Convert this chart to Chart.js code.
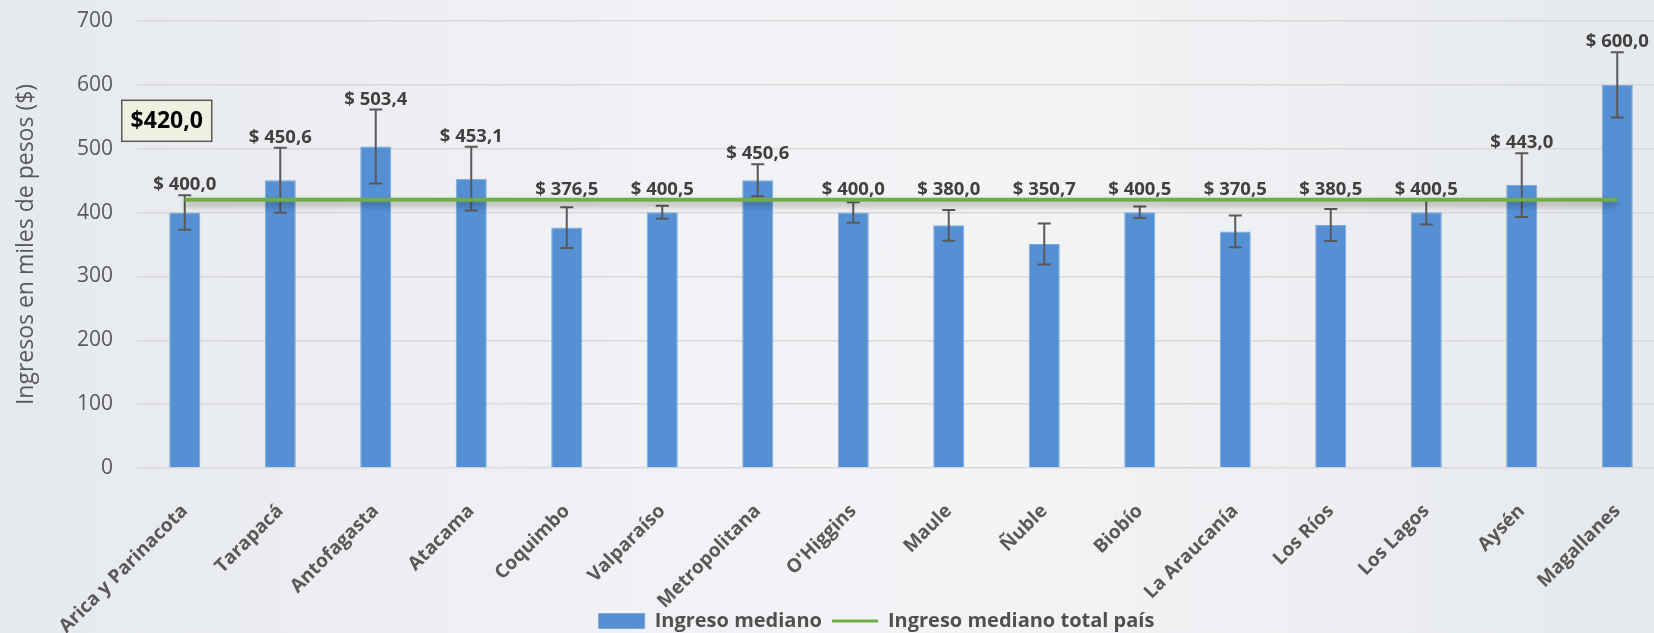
<!DOCTYPE html>
<html>
<head>
<meta charset="utf-8">
<script src="https://cdn.jsdelivr.net/npm/chart.js@4.4.1/dist/chart.umd.min.js"></script>
<style>
html, body { margin:0; padding:0; overflow:hidden; width:1654px; height:633px; }
body { background: linear-gradient(90deg, #e6e9ed 0%, #f1f2f5 40%, #f3f4f6 60%, #e6e9ec 100%); }
canvas { display:block; }
</style>
</head>
<body>
<canvas id="chart" width="1753" height="633"></canvas>
<script>
//=========================================
// Data
//=========================================
const regiones = [
    "Arica y Parinacota", "Tarapacá", "Antofagasta", "Atacama", "Coquimbo",
    "Valparaíso", "Metropolitana", "O'Higgins", "Maule", "Ñuble",
    "Biobío", "La Araucanía", "Los Ríos", "Los Lagos", "Aysén", "Magallanes"
];

const ingresoMediano = [400.0, 450.6, 503.4, 453.1, 376.5, 400.5, 450.6, 400.0,
                        380.0, 350.7, 400.5, 370.5, 380.5, 400.5, 443.0, 600.0];

const errorMargen = [27, 51, 58, 50, 32, 10, 25, 16, 24, 32, 9, 25, 25, 19, 50, 51];

const totalPais = 420.0;

const yMin = 0;
const yMax = 700;
const yStep = 100;

const fontFam = "'Open Sans', 'Liberation Sans', sans-serif";

const fmt = v => v.toFixed(1).replace(".", ",");

//------------------------------------
// Error bars (drawn right after the bars)
//------------------------------------
const errorBars = {
    id: "errorBars",
    afterDatasetDraw(chart, args) {
        if (args.index !== 0) return;
        const ctx = chart.ctx;
        const y = chart.scales.y;
        ctx.save();
        ctx.strokeStyle = "#595959";
        ctx.lineWidth = 2;
        args.meta.data.forEach((bar, i) => {
            const top = y.getPixelForValue(ingresoMediano[i] + errorMargen[i]);
            const bot = y.getPixelForValue(ingresoMediano[i] - errorMargen[i]);
            ctx.beginPath();
            ctx.moveTo(bar.x, top); ctx.lineTo(bar.x, bot);
            ctx.moveTo(bar.x - 6.5, top); ctx.lineTo(bar.x + 6.5, top);
            ctx.moveTo(bar.x - 6.5, bot); ctx.lineTo(bar.x + 6.5, bot);
            ctx.stroke();
        });
        ctx.restore();
    }
};

//------------------------------------
// Shadow under the country line
//------------------------------------
const lineShadow = {
    id: "lineShadow",
    beforeDatasetDraw(chart, args) {
        if (args.index !== 1) return;
        const ctx = chart.ctx;
        ctx.save();
        ctx.shadowColor = "rgba(0,0,0,0.35)";
        ctx.shadowBlur = 6;
        ctx.shadowOffsetY = 4;
    },
    afterDatasetDraw(chart, args) {
        if (args.index !== 1) return;
        chart.ctx.restore();
    }
};

//------------------------------------
// Let x labels run under the legend, push legend down a bit
//------------------------------------
const layoutTweak = {
    id: "layoutTweak",
    afterLayout(chart) {
        chart.scales.x.bottom = chart.height;
        chart.legend.top += 8;
        chart.legend.bottom += 8;
    }
};

//------------------------------------
// Value labels + total box
//------------------------------------
const valueLabels = {
    id: "valueLabels",
    afterDatasetsDraw(chart) {
        const ctx = chart.ctx;
        const y = chart.scales.y;
        const x = chart.scales.x;
        const lineY = y.getPixelForValue(totalPais);
        const bars = chart.getDatasetMeta(0).data;

        ctx.save();
        ctx.font = "bold 18.5px " + fontFam;
        ctx.fillStyle = "#404040";
        ctx.textAlign = "center";
        ctx.textBaseline = "bottom";
        bars.forEach((bar, i) => {
            const top = y.getPixelForValue(ingresoMediano[i] + errorMargen[i]);
            const base = Math.min(top, lineY) - 1;
            ctx.fillText("$ " + fmt(ingresoMediano[i]), bar.x, base);
        });

        // total box
        const cx = x.getPixelForValue(0) - 18;
        const cy = lineY - 79;
        const w = 90, h = 41;
        ctx.fillStyle = "#eef1e1";
        ctx.fillRect(cx - w / 2, cy - h / 2, w, h);
        ctx.strokeStyle = "#595959";
        ctx.lineWidth = 1.5;
        ctx.strokeRect(cx - w / 2, cy - h / 2, w, h);
        ctx.font = "bold 23px " + fontFam;
        ctx.fillStyle = "#000000";
        ctx.textBaseline = "middle";
        ctx.fillText("$" + fmt(totalPais), cx, cy + 1);
        ctx.restore();
    }
};

//=========================================
// Chart
//=========================================
new Chart(document.getElementById("chart"), {
    data: {
        labels: regiones,
        datasets: [
            {
                type: "bar",
                label: "Ingreso mediano",
                data: ingresoMediano,
                backgroundColor: "#5590d5",
                borderColor: "#79a8df",
                borderWidth: 1,
                barPercentage: 0.325,
                categoryPercentage: 1,
                order: 2
            },
            {
                type: "line",
                label: "Ingreso mediano total país",
                data: regiones.map(() => totalPais),
                borderColor: "#70ad47",
                backgroundColor: "#70ad47",
                borderWidth: 4,
                pointRadius: 0,
                fill: false,
                order: 1
            }
        ]
    },
    options: {
        responsive: false,
        animation: false,
        layout: { padding: { top: 21, left: 0, right: 0, bottom: 0 } },
        plugins: {
            tooltip: { enabled: false },
            legend: {
                position: "bottom",
                labels: {
                    usePointStyle: true,
                    pointStyleWidth: 46,
                    boxHeight: 15,
                    padding: 10,
                    color: "#505050",
                    font: { family: fontFam, size: 20, weight: "bold" },
                    sort: (a, b) => a.datasetIndex - b.datasetIndex,
                    generateLabels(chart) {
                        const items = Chart.defaults.plugins.legend.labels.generateLabels(chart);
                        items.forEach(it => {
                            if (it.datasetIndex === 0) {
                                it.pointStyle = "rect";
                            } else {
                                it.pointStyle = "line";
                                it.lineWidth = 3;
                            }
                        });
                        return items;
                    }
                }
            }
        },
        scales: {
            x: {
                grid: { display: false },
                border: { display: false },
                ticks: {
                    autoSkip: false,
                    minRotation: 45,
                    maxRotation: 45,
                    padding: 24,
                    color: "#595959",
                    font: { family: fontFam, size: 19, weight: "bold" }
                },
                afterFit(s) { s.height = 125; }
            },
            y: {
                min: yMin,
                max: yMax,
                ticks: {
                    stepSize: yStep,
                    padding: 0,
                    color: "#595959",
                    font: { family: fontFam, size: 21 }
                },
                grid: {
                    color: "#d9d9d9",
                    lineWidth: 1.5,
                    drawTicks: true,
                    tickLength: 24,
                    tickColor: "rgba(0,0,0,0)"
                },
                border: { display: false },
                title: {
                    display: true,
                    text: "Ingresos en miles de pesos ($)",
                    color: "#595959",
                    font: { family: fontFam, size: 23 },
                    padding: { top: 13, bottom: 0 }
                },
                afterFit(s) { s.width = 137; }
            },
            y2: {
                type: "linear",
                position: "right",
                display: true,
                grid: { display: false },
                border: { display: false },
                ticks: { display: false },
                afterFit(s) { s.width = 88; }
            }
        }
    },
    plugins: [errorBars, lineShadow, layoutTweak, valueLabels]
});
</script>
</body>
</html>
